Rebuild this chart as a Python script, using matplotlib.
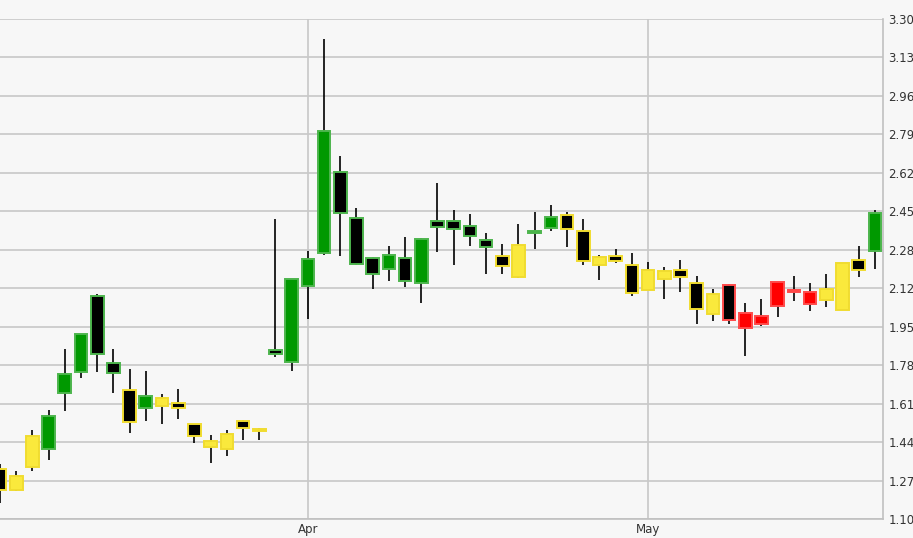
import numpy as np
import matplotlib
matplotlib.use("Agg")
import matplotlib.pyplot as plt

# daily candles, index = trading day
opens = [1.320, 1.228, 1.327, 1.407, 1.653, 1.745, 2.080, 1.788, 1.668, 1.587,
         1.596, 1.612, 1.518, 1.415, 1.407, 1.533, 1.489, 1.842, 1.791, 2.124,
         2.269, 2.628, 2.426, 2.250, 2.200, 2.250, 2.137, 2.410, 2.410, 2.391,
         2.329, 2.257, 2.163, 2.360, 2.379, 2.439, 2.369, 2.216, 2.257, 2.219,
         2.108, 2.155, 2.197, 2.140, 2.001, 2.131, 1.939, 1.957, 2.036, 2.100,
         2.045, 2.062, 2.020, 2.240, 2.279]
highs = [1.342, 1.311, 1.492, 1.580, 1.848, 1.915, 2.090, 1.848, 1.760, 1.752,
         1.650, 1.672, 1.520, 1.470, 1.492, 1.535, 1.500, 2.420, 2.157, 2.281,
         3.212, 2.697, 2.468, 2.252, 2.301, 2.341, 2.335, 2.578, 2.460, 2.442,
         2.358, 2.310, 2.399, 2.451, 2.482, 2.451, 2.420, 2.262, 2.288, 2.270,
         2.231, 2.209, 2.240, 2.168, 2.112, 2.133, 2.049, 2.068, 2.144, 2.169,
         2.137, 2.177, 2.227, 2.300, 2.460]
lows = [1.172, 1.225, 1.313, 1.360, 1.577, 1.722, 1.748, 1.656, 1.480, 1.533,
        1.519, 1.541, 1.436, 1.348, 1.379, 1.448, 1.448, 1.811, 1.752, 1.979,
        2.263, 2.259, 2.218, 2.111, 2.149, 2.122, 2.052, 2.276, 2.218, 2.303,
        2.179, 2.179, 2.161, 2.288, 2.369, 2.298, 2.219, 2.153, 2.228, 2.082,
        2.106, 2.069, 2.100, 1.959, 1.973, 1.959, 1.819, 1.949, 1.987, 2.061,
        2.017, 2.034, 2.018, 2.163, 2.199]
closes = [1.228, 1.291, 1.464, 1.552, 1.739, 1.913, 1.826, 1.741, 1.527, 1.643,
          1.631, 1.590, 1.467, 1.442, 1.473, 1.500, 1.489, 1.825, 2.155, 2.243,
          2.806, 2.446, 2.221, 2.178, 2.263, 2.147, 2.333, 2.385, 2.376, 2.345,
          2.297, 2.213, 2.307, 2.360, 2.427, 2.376, 2.237, 2.251, 2.235, 2.094,
          2.196, 2.191, 2.165, 2.024, 2.089, 1.976, 2.005, 1.992, 2.141, 2.100,
          2.100, 2.111, 2.225, 2.197, 2.445]
# colour group of each candle: g = green, y = yellow, r = red
groups = list("yyy" "ggggg" "y" "g" "yyyyyyy" "gggggggggggggg" "yy" "gg"
              "yyyyyyyyyy" "rrrrrr" "yyy" "g")

month_labels = ["Apr", "May"]
month_pos = [19, 40]
yticks = np.linspace(1.10, 3.30, 14)

fill = {"g": "#009900", "y": "#fae93c", "r": "#ff0000"}
edge = {"g": "#4db54d", "y": "#f0dc30", "r": "#ff4a4a"}

fig = plt.figure(figsize=(9.13, 5.38), dpi=100)
fig.patch.set_facecolor("#f7f7f7")
ax = fig.add_axes([0, 19 / 538, 883 / 913, 500 / 538])
ax.set_facecolor("#f7f7f7")

x = np.arange(len(opens))
o = np.array(opens)
c = np.array(closes)

# wicks
ax.vlines(x, lows, highs, color="black", lw=1.2, zorder=2)

# bodies: black when close < open, else coloured
bottoms = np.minimum(o, c)
heights = np.maximum(np.abs(c - o), 0.007)
fcs = ["black" if cl < op else fill[g] for op, cl, g in zip(o, c, groups)]
ecs = [edge[g] for g in groups]
ax.bar(x, heights, bottom=bottoms, width=0.78, color=fcs, edgecolor=ecs,
       linewidth=1.4, zorder=3)

ax.set_xlim(0, 54.5)
ax.set_ylim(1.10, 3.30)
ax.set_yticks(yticks)
ax.set_yticklabels([f"{v:.2f}" for v in yticks])
ax.set_xticks(month_pos)
ax.set_xticklabels(month_labels)
ax.yaxis.tick_right()
ax.grid(True, color="#c8c8c8", lw=1.2, zorder=0)
ax.set_axisbelow(True)
ax.tick_params(length=0, labelsize=8.5, labelcolor="#333333")
for lab in ax.get_xticklabels() + ax.get_yticklabels():
    lab.set_family(["Liberation Sans Narrow", "DejaVu Sans"])
ax.tick_params(axis="y", pad=4)
ax.tick_params(axis="x", pad=3)
for s in ["top", "left"]:
    ax.spines[s].set_visible(False)
for s in ["right", "bottom"]:
    ax.spines[s].set_color("#c0c0c0")
    ax.spines[s].set_linewidth(1.2)

fig.savefig("out.png", dpi=100, facecolor=fig.get_facecolor())
